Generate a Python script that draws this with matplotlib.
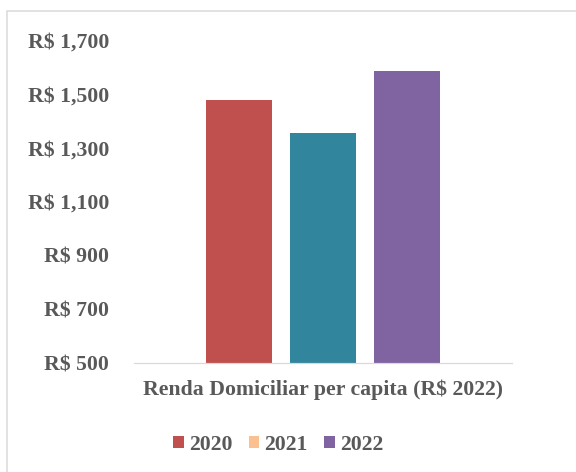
import matplotlib.pyplot as plt
from matplotlib.patches import Patch, Rectangle

category = 'Renda Domiciliar per capita (R$ 2022)'
years = ['2020', '2021', '2022']
values = [1476, 1353, 1585]
bar_colors = ['#C0504D', '#31859C', '#8064A2']
legend_colors = ['#C0504D', '#FAC090', '#8064A2']
yticks = [500, 700, 900, 1100, 1300, 1500, 1700]

txt = '#595959'
fs = 21.8
plt.rcParams['font.family'] = ['Liberation Serif', 'DejaVu Serif']
plt.rcParams['font.weight'] = 'bold'

fig = plt.figure(figsize=(8, 472 / 72), dpi=72)
ax = fig.add_axes([134 / 576, 1 - 363 / 472, 378 / 576, 323 / 472])

width = 66 / 378
step = 84 / 378
for i, (v, c) in enumerate(zip(values, bar_colors)):
    ax.bar((i - 1) * step, v - 500, width=width, bottom=500, color=c)

ax.set_xlim(-0.5, 0.5)
ax.set_ylim(500, 1700)
ax.set_yticks(yticks)
ax.set_yticklabels(['R$ {:,}'.format(t) for t in yticks], fontsize=fs,
                   color=txt, fontweight='bold')
ax.tick_params(axis='y', length=0, pad=25)
ax.set_xticks([0])
ax.set_xticklabels([category], fontsize=fs, color=txt, fontweight='bold')
ax.tick_params(axis='x', length=0, pad=17)

for s in ['top', 'right', 'left']:
    ax.spines[s].set_visible(False)
ax.spines['bottom'].set_color('#D9D9D9')
ax.spines['bottom'].set_linewidth(1.2)

handles = [Patch(facecolor=c, label=y) for y, c in zip(years, legend_colors)]
fig.legend(handles=handles, loc='center', bbox_to_anchor=(278 / 576, 1 - 445 / 472),
           ncol=3, frameon=False, handlelength=0.5, handleheight=0.5,
           handletextpad=0.22, columnspacing=0.75,
           prop={'size': fs, 'weight': 'bold'}, labelcolor=txt)

# chart border
fig.patches.append(Rectangle((7 / 576, -0.1), 1.2, 1 - 11 / 472 + 0.1,
                             transform=fig.transFigure, fill=False,
                             edgecolor='#D9D9D9', linewidth=1.5))

fig.savefig('out.png', dpi=72)
